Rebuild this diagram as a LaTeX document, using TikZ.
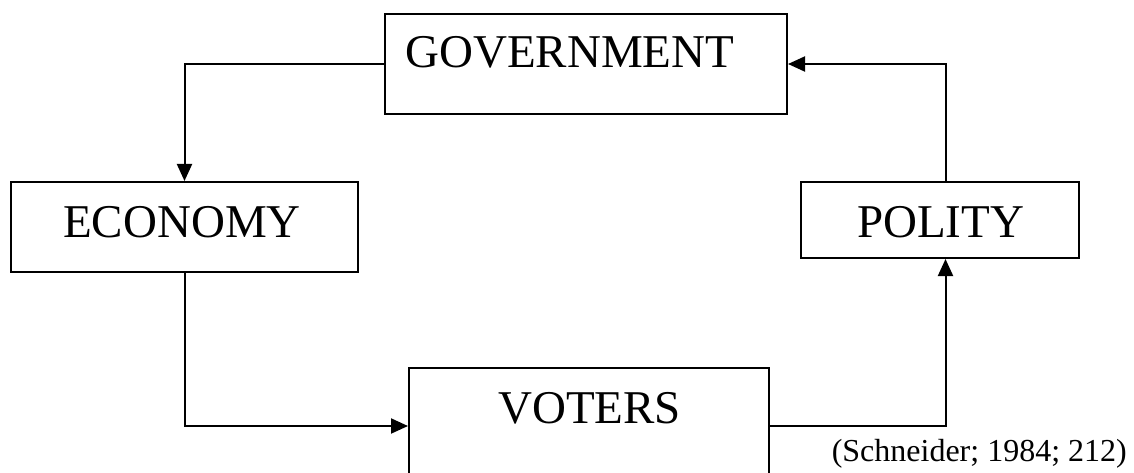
\documentclass[tikz,border=0pt]{standalone}
\usepackage{fontspec}
\setmainfont{Liberation Serif}
\usetikzlibrary{arrows.meta}
\begin{document}
\begin{tikzpicture}[x=1pt,y=-1pt,
  box/.style={draw,line width=2pt,rectangle,inner sep=0pt},
  lbl/.style={anchor=base west,inner sep=0pt,font=\fontsize{47}{50}\selectfont},
  conn/.style={line width=2pt,-{Triangle[length=17pt,width=15pt]}}]
\useasboundingbox (0,0) rectangle (1134,473);
\clip (0,0) rectangle (1134,473);
% boxes
\node[box,minimum width=402pt,minimum height=100pt] (gov) at (586,64) {};
\node[box,minimum width=347pt,minimum height=90pt] (econ) at (184.5,227) {};
\node[box,minimum width=278pt,minimum height=76pt] (pol) at (940,220) {};
\node[box,minimum width=360pt,minimum height=116pt] (vot) at (589,426) {};
% labels
\node[lbl] (govt) at (405,68) {GOVERNMENT};
\node[lbl] (econt) at (63,237) {ECONOMY};
\node[lbl] (polt) at (857,237) {POLITY};
\node[lbl] (vott) at (498,423) {VOTERS};
\node[anchor=base east,inner sep=0pt,font=\fontsize{32}{35}\selectfont] (cite) at (1127,461) {(Schneider; 1984; 212)};
% connectors
\draw[conn] (gov.west) -| (econ.north);
\draw[conn] (econ.south) |- (vot.west);
\draw[conn] (vot.east) -| ([xshift=5.5pt]pol.south);
\draw[conn] ([xshift=5.5pt]pol.north) |- (gov.east);
\end{tikzpicture}
\end{document}
